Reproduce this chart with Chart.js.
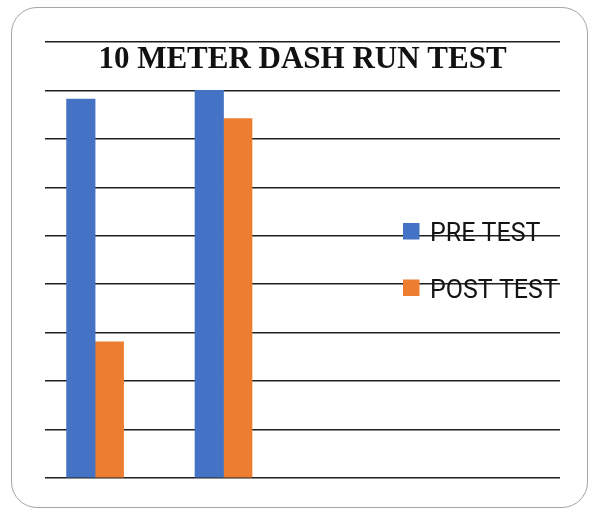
<!DOCTYPE html>
<html>
<head>
<meta charset="utf-8">
<script src="https://cdn.jsdelivr.net/npm/chart.js"></script>
<style>
html, body { margin: 0; padding: 0; background: #fff; }
#frame {
    position: absolute; left: 11px; top: 7px; width: 577px; height: 501px;
    border: 1.5px solid #a6a6a6; border-radius: 26px; box-sizing: border-box;
}
#wrap { position: absolute; left: 0; top: 0; width: 594px; height: 512px; }
</style>
</head>
<body>
<div id="frame"></div>
<div id="wrap"><canvas id="grafico"></canvas></div>
<script>
// Datos
const grupos = ['Grupo 1', 'Grupo 2'];
const series = ['PRE TEST', 'POST TEST'];
const preTest = [7.82, 8.0];
const postTest = [2.81, 7.42];
const colores = ['#4472C4', '#ED7D31'];
const titulo = '10 METER DASH RUN TEST';
const yMax = 9;

// Título y leyenda dibujados encima del área del gráfico
const tituloYLeyenda = {
    id: 'tituloYLeyenda',
    afterDraw(chart) {
        const ctx = chart.ctx;
        const area = chart.chartArea;
        ctx.save();
        ctx.fillStyle = '#111';
        ctx.font = 'bold 31px "Liberation Serif", "Times New Roman", serif';
        ctx.textAlign = 'center';
        ctx.textBaseline = 'alphabetic';
        ctx.fillText(titulo, (area.left + area.right) / 2, 68);

        ctx.font = '25px Roboto, sans-serif';
        ctx.textAlign = 'left';
        chart.data.datasets.forEach((ds, i) => {
            const y = 223 + i * 56.5;
            ctx.fillStyle = ds.backgroundColor;
            ctx.fillRect(403, y, 16.5, 16.5);
            ctx.fillStyle = '#141414';
            ctx.fillText(ds.label, 430, y + 18);
        });
        ctx.restore();
    }
};

const ctx = document.getElementById('grafico').getContext('2d');
const grafico = new Chart(ctx, {
    type: 'bar',
    data: {
        datasets: [
            {
                label: series[0],
                data: grupos.map((g, i) => ({ x: i, y: preTest[i] })),
                backgroundColor: colores[0]
            },
            {
                label: series[1],
                data: grupos.map((g, i) => ({ x: i, y: postTest[i] })),
                backgroundColor: colores[1]
            }
        ]
    },
    options: {
        responsive: true,
        maintainAspectRatio: false,
        animation: false,
        barThickness: 28.5,
        layout: { padding: { left: 45, right: 34, top: 42, bottom: 34 } },
        plugins: {
            legend: { display: false },
            title: { display: false },
            tooltip: { enabled: false }
        },
        scales: {
            x: {
                type: 'linear',
                display: false,
                offset: false,
                min: -0.39,
                max: 3.62
            },
            y: {
                min: 0,
                max: yMax,
                ticks: { display: false, stepSize: 1 },
                border: { display: false },
                grid: { color: '#1f1f1f', lineWidth: 1.6, drawTicks: false }
            }
        }
    },
    plugins: [tituloYLeyenda]
});
</script>
</body>
</html>
